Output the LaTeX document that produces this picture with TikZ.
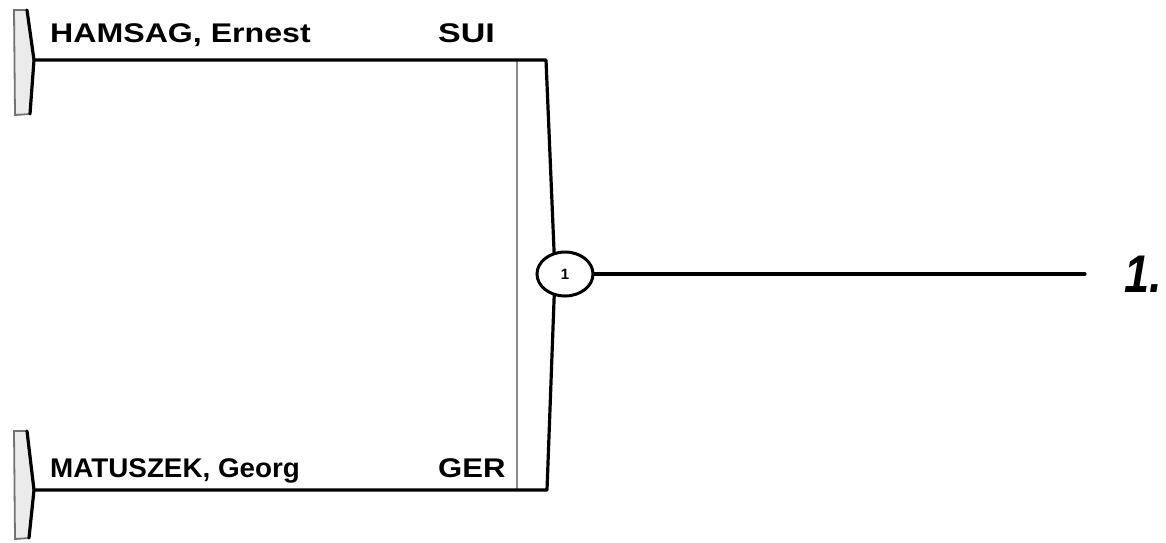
\documentclass[tikz,border=0pt]{standalone}
\usepackage{fontspec}
\setmainfont{Liberation Sans}
\usetikzlibrary{shapes.geometric}
\tikzset{
  thick line/.style={line width=3.2pt, black, line cap=round, line join=round},
  thin gray/.style={line width=2pt, black!45},
  namebox/.style={anchor=base west, inner sep=0pt, font=\fontsize{27}{30}\selectfont\bfseries},
  capfill/.style={fill=black!8, draw=black!55, line width=1.8pt},
  matchnode/.style={ellipse, draw, line width=3pt, fill=white, minimum width=56pt, minimum height=44pt, inner sep=0pt, font=\fontsize{15}{17}\selectfont\bfseries},
  resultbox/.style={anchor=base west, inner sep=0pt, font=\fontsize{53}{56}\selectfont\bfseries\itshape}
}
\begin{document}
\begin{tikzpicture}[x=1pt,y=-1pt]
\useasboundingbox (0,0) rectangle (1166,542);
% left caps
\filldraw[capfill] (14,10) -- (27,10) -- (34,60) -- (30,114) -- (15,115) -- cycle;
\draw[thick line] (27,10) -- (34,60) -- (30,114);
\coordinate (cap1) at (34,60);
\filldraw[capfill] (14,431) -- (27,431) -- (34,490) -- (29,538) -- (15,539) -- cycle;
\draw[thick line] (27,431) -- (34,490) -- (29,538);
\coordinate (cap2) at (34,490);
% bracket corners
\coordinate (tr) at (546,60);
\coordinate (br) at (547,490);
\coordinate (mid) at (555,274);
\coordinate (tl) at (517,60);
\coordinate (bl) at (517,490);
\draw[thin gray] (tl) -- (bl);
\draw[thick line] (cap1) -- (tr) -- (mid) -- (br) -- (cap2);
% match node
\node[matchnode] (m1) at (565,274) {1};
\coordinate (rend) at (1085,274);
\draw[thick line] (m1.east) -- (rend);
\node[resultbox] (res) at (1124,292) {\scalebox{0.85}[1]{1.}};
% labels
\node[namebox] (n1) at (50,42) {\scalebox{1.19}[1]{HAMSAG, Ernest}};
\node[namebox] (c1) at (438,42) {\scalebox{1.26}[1]{SUI}};
\node[namebox] (n2) at (50,477) {\scalebox{1.03}[1]{MATUSZEK, Georg}};
\node[namebox] (c2) at (438,477) {\scalebox{1.15}[1]{GER}};
\end{tikzpicture}
\end{document}
